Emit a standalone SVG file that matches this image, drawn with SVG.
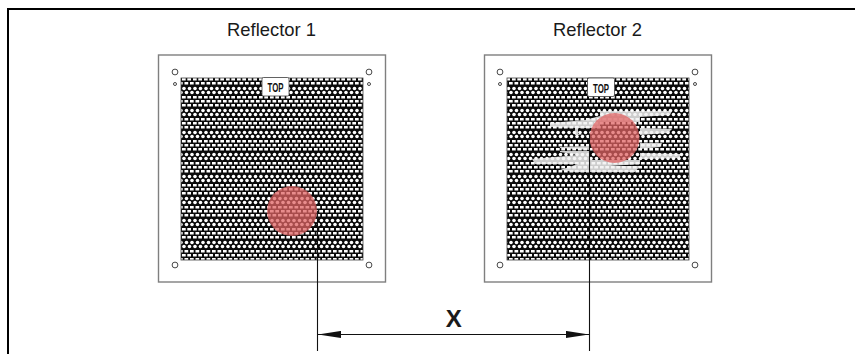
<svg xmlns="http://www.w3.org/2000/svg" width="855" height="354" viewBox="0 0 855 354">
<style>
.panel{fill:#fff;stroke:#7f7f7f;stroke-width:1.4}
.mesh{fill:url(#hex);stroke:#444;stroke-width:.8}
.hole{fill:#fff;stroke:#333;stroke-width:.9}
.tag{fill:#fff;stroke:#444;stroke-width:.8}
.tagt{font-family:"Liberation Sans Narrow","Liberation Sans",sans-serif;font-weight:700;font-size:12.5px;fill:#111;text-anchor:middle}
.lbl{font-family:"Liberation Sans",Arial,sans-serif;font-size:18.4px;fill:#1a1a1a;text-anchor:middle}
.spot{fill:#e06464;fill-opacity:.74}
.dim{stroke:#111;stroke-width:1.1;fill:none}
</style>
<defs>
<g id="ra"><rect x="1" width="3.7" height="2.5"/><rect x="6.300" width="3.7" height="2.5"/></g>
<g id="rb"><rect x="-2" width="3.7" height="2.5"/><rect x="3.500" width="3.7" height="2.5"/><rect x="9" width="3.7" height="2.5"/></g>
<g id="da"><circle cx="3" cy="1.5" r="1.800"/><circle cx="8.500" cy="1.5" r="1.800"/></g>
<g id="db"><circle cx="0" cy="1.5" r="1.800"/><circle cx="5.500" cy="1.5" r="1.800"/><circle cx="11" cy="1.5" r="1.800"/></g>
<pattern id="hex" width="11" height="44" patternUnits="userSpaceOnUse" x="181" y="78">
<rect width="11" height="44" fill="#0a0a0a"/>
<g fill="#fff">
<use href="#ra" y="0"/><use href="#rb" y="4"/><use href="#da" y="9"/><use href="#db" y="13"/><use href="#ra" y="18"/>
<use href="#rb" y="22"/><use href="#ra" y="26"/><use href="#db" y="31"/><use href="#da" y="35"/><use href="#rb" y="40"/>
</g>
</pattern>
<filter id="soft" x="-5%" y="-20%" width="110%" height="140%"><feGaussianBlur stdDeviation=".5"/></filter>
<marker id="ah" markerUnits="userSpaceOnUse" markerWidth="23" markerHeight="8" refX="23" refY="4" orient="auto-start-reverse">
<path d="M0 .4L23 4L0 7.6Z" fill="#111"/>
</marker>
</defs>
<rect width="855" height="354" fill="#fff"/>
<path d="M855 9H8V354" fill="none" stroke="#000" stroke-width="2"/>
<g id="reflector-1">
<rect class="panel" x="158.500" y="55" width="227" height="227"/>
<rect class="mesh" x="181" y="78" width="182" height="182"/>
<circle class="hole" cx="175" cy="72" r="2.900"/><circle class="hole" cx="175" cy="84" r="1.500"/>
<circle class="hole" cx="369" cy="72" r="2.900"/><circle class="hole" cx="369" cy="84" r="1.500"/>
<circle class="hole" cx="175" cy="265" r="2.900"/><circle class="hole" cx="369" cy="265" r="2.900"/>
<rect class="tag" x="262" y="77.500" width="27" height="18.500" rx="1.500"/>
<text class="tagt" x="275.500" y="92" textLength="16" lengthAdjust="spacingAndGlyphs">TOP</text>
<text class="lbl" x="271.500" y="36">Reflector 1</text>
<circle class="spot" cx="292" cy="211" r="25"/>
</g>
<g id="reflector-2">
<rect class="panel" x="484.500" y="55" width="227" height="227"/>
<rect class="mesh" x="507" y="78" width="182" height="182"/>
<circle class="hole" cx="500" cy="72" r="2.900"/><circle class="hole" cx="500" cy="84" r="1.500"/>
<circle class="hole" cx="695" cy="72" r="2.900"/><circle class="hole" cx="695" cy="84" r="1.500"/>
<circle class="hole" cx="500" cy="265" r="2.900"/><circle class="hole" cx="695" cy="265" r="2.900"/>
<path filter="url(#soft)" fill="#f2f2f2" fill-opacity=".84" d="M600 111H672L670 115L640 117L640 122H600V128H575V135H590V150L560 148V151H590V160H640V164L610 166H640L635 172H575L560 170L578 164H535L532 159L578 155L560 152V147L590 146V136L578 134V128L550 127V123L585 120L600 116ZM640 128L672 129L668 133L640 135ZM640 143L662 143L660 147L640 149ZM640 153L680 154L680 158L640 159Z"/>
<rect class="tag" x="587.500" y="78" width="27" height="18.500" rx="1.500"/>
<text class="tagt" x="601" y="92.500" textLength="16" lengthAdjust="spacingAndGlyphs">TOP</text>
<text class="lbl" x="597.500" y="36">Reflector 2</text>
<circle class="spot" cx="614.500" cy="138" r="25"/>
</g>
<g id="connectors">
<path class="dim" d="M317.500 211V351"/>
<path class="dim" d="M589.500 135V351"/>
<path class="dim" d="M318 334.500H589" marker-start="url(#ah)" marker-end="url(#ah)"/>
</g>
<text id="x-label" x="453.700" y="327" font-family="Liberation Sans,Arial,sans-serif" font-weight="700" font-size="24" fill="#1a1a1a" text-anchor="middle">X</text>
</svg>
